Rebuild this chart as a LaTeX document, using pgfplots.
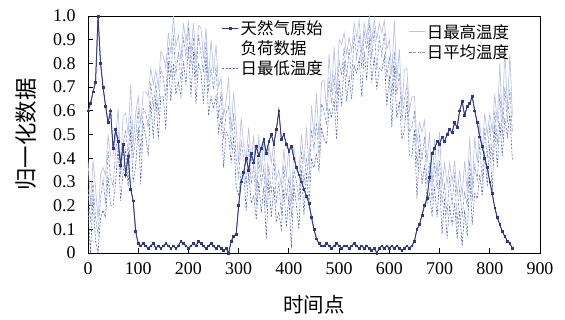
\documentclass[border=0pt]{standalone}
\usepackage{fontspec}
\setmainfont{Liberation Serif}
\newfontfamily\cjk{Noto Sans CJK SC}
\usepackage{pgfplots}
\usepackage{pgfplotstable}
\pgfplotsset{compat=1.18}
\definecolor{loadc}{RGB}{45,55,135}
\definecolor{tmaxc}{RGB}{185,192,232}
\definecolor{tminc}{RGB}{85,104,188}
\definecolor{tavgc}{RGB}{135,150,216}

\pgfplotstableread{
x L Tmax Tmin Tavg
0 0.60 0.39 0.19 0.27
5 0.63 0.20 0.00 0.13
10 0.68 0.39 0.24 0.30
15 0.72 0.28 0.05 0.15
20 1.00 0.14 0.00 0.08
25 0.80 0.33 0.15 0.23
30 0.70 0.36 0.18 0.31
35 0.62 0.33 0.15 0.21
40 0.55 0.50 0.33 0.43
45 0.60 0.41 0.20 0.32
50 0.44 0.41 0.20 0.28
55 0.52 0.49 0.30 0.43
60 0.47 0.61 0.45 0.51
65 0.37 0.37 0.22 0.32
70 0.46 0.58 0.34 0.46
75 0.33 0.59 0.44 0.52
80 0.41 0.50 0.28 0.41
85 0.27 0.71 0.52 0.58
90 0.22 0.46 0.30 0.40
95 0.09 0.59 0.37 0.49
100 0.04 0.66 0.53 0.61
105 0.03 0.54 0.29 0.42
110 0.04 0.68 0.55 0.61
115 0.03 0.68 0.49 0.59
120 0.02 0.66 0.41 0.53
125 0.03 0.78 0.64 0.72
130 0.04 0.71 0.48 0.61
135 0.02 0.77 0.66 0.72
140 0.03 0.70 0.48 0.58
145 0.02 0.85 0.66 0.78
150 0.03 0.83 0.66 0.74
155 0.04 0.78 0.52 0.65
160 0.03 0.93 0.81 0.87
165 0.02 0.84 0.64 0.74
170 0.03 1.00 0.80 0.92
175 0.02 0.87 0.67 0.75
180 0.03 0.92 0.72 0.85
185 0.05 0.81 0.66 0.72
190 0.04 0.97 0.81 0.91
195 0.03 0.89 0.71 0.83
200 0.02 0.98 0.87 0.95
205 0.03 0.84 0.66 0.79
210 0.04 0.97 0.85 0.91
215 0.03 0.80 0.63 0.73
220 0.05 0.96 0.80 0.92
225 0.04 0.95 0.76 0.84
230 0.03 0.82 0.63 0.76
235 0.02 0.95 0.83 0.89
240 0.03 0.73 0.58 0.68
245 0.04 0.90 0.66 0.78
250 0.03 0.76 0.61 0.69
255 0.02 0.88 0.66 0.79
260 0.03 0.70 0.51 0.57
265 0.02 0.74 0.58 0.68
270 0.01 0.58 0.36 0.48
275 0.02 0.64 0.51 0.59
280 0.00 0.74 0.49 0.62
285 0.05 0.51 0.38 0.44
290 0.07 0.68 0.49 0.59
295 0.08 0.53 0.28 0.40
300 0.20 0.38 0.24 0.32
305 0.30 0.57 0.34 0.47
310 0.34 0.45 0.34 0.40
315 0.40 0.40 0.18 0.28
320 0.35 0.53 0.34 0.46
325 0.42 0.38 0.21 0.29
330 0.38 0.50 0.24 0.37
335 0.45 0.26 0.14 0.20
340 0.41 0.50 0.30 0.40
345 0.44 0.34 0.17 0.29
350 0.48 0.48 0.28 0.36
355 0.42 0.26 0.06 0.19
360 0.47 0.46 0.31 0.37
365 0.50 0.38 0.15 0.25
370 0.46 0.46 0.28 0.40
375 0.52 0.31 0.13 0.21
380 0.60 0.35 0.17 0.30
385 0.48 0.28 0.10 0.16
390 0.50 0.44 0.27 0.37
395 0.46 0.32 0.11 0.23
400 0.43 0.45 0.24 0.32
405 0.45 0.21 0.02 0.15
410 0.40 0.45 0.29 0.35
415 0.36 0.35 0.20 0.30
420 0.33 0.34 0.10 0.22
425 0.30 0.50 0.35 0.43
430 0.27 0.38 0.16 0.29
435 0.24 0.53 0.34 0.40
440 0.21 0.36 0.20 0.30
445 0.15 0.62 0.40 0.52
450 0.10 0.49 0.36 0.44
455 0.06 0.67 0.42 0.55
460 0.04 0.48 0.35 0.41
465 0.03 0.72 0.53 0.63
470 0.03 0.73 0.48 0.60
475 0.04 0.60 0.46 0.54
480 0.03 0.84 0.61 0.74
485 0.02 0.68 0.57 0.63
490 0.03 0.87 0.65 0.75
495 0.04 0.67 0.48 0.60
500 0.03 0.90 0.73 0.81
505 0.02 0.88 0.62 0.75
510 0.03 0.93 0.81 0.87
515 0.03 0.84 0.64 0.74
520 0.02 0.91 0.74 0.86
525 0.03 0.85 0.65 0.73
530 0.04 0.97 0.79 0.92
535 0.03 0.91 0.76 0.82
540 0.02 0.98 0.82 0.92
545 0.03 0.84 0.66 0.78
550 0.02 0.97 0.85 0.93
555 0.03 0.91 0.73 0.86
560 0.02 1.00 0.91 0.97
565 0.01 0.89 0.72 0.82
570 0.02 0.99 0.83 0.95
575 0.00 0.90 0.69 0.77
580 0.02 0.97 0.78 0.91
585 0.03 0.93 0.77 0.83
590 0.02 0.98 0.83 0.93
595 0.03 0.86 0.62 0.74
600 0.02 0.90 0.75 0.83
605 0.03 0.75 0.53 0.66
610 0.02 0.98 0.79 0.85
615 0.03 0.73 0.57 0.67
620 0.02 0.86 0.64 0.76
625 0.01 0.61 0.48 0.56
630 0.02 0.77 0.52 0.65
635 0.03 0.78 0.65 0.71
640 0.02 0.60 0.41 0.51
645 0.03 0.66 0.41 0.53
650 0.05 0.66 0.52 0.60
655 0.10 0.46 0.23 0.36
660 0.12 0.55 0.44 0.50
665 0.16 0.51 0.29 0.39
670 0.20 0.56 0.37 0.49
675 0.23 0.38 0.21 0.29
680 0.32 0.51 0.25 0.38
685 0.42 0.28 0.16 0.22
690 0.44 0.48 0.28 0.38
695 0.47 0.32 0.15 0.27
700 0.46 0.51 0.31 0.39
705 0.49 0.28 0.08 0.21
710 0.47 0.38 0.23 0.29
715 0.50 0.29 0.06 0.16
720 0.52 0.38 0.20 0.32
725 0.51 0.30 0.12 0.20
730 0.55 0.39 0.21 0.34
735 0.53 0.24 0.06 0.12
740 0.60 0.35 0.18 0.28
745 0.64 0.24 0.03 0.15
750 0.58 0.39 0.18 0.26
755 0.62 0.26 0.07 0.20
760 0.63 0.49 0.33 0.39
765 0.66 0.27 0.12 0.22
770 0.60 0.49 0.25 0.37
775 0.55 0.38 0.23 0.31
780 0.49 0.55 0.33 0.46
785 0.45 0.43 0.24 0.30
790 0.40 0.59 0.43 0.53
795 0.36 0.50 0.28 0.40
800 0.30 0.59 0.46 0.54
805 0.25 0.51 0.26 0.39
810 0.19 0.67 0.54 0.60
815 0.15 0.55 0.36 0.46
820 0.12 0.80 0.55 0.67
825 0.09 0.55 0.41 0.49
830 0.07 0.86 0.57 0.70
835 0.05 0.60 0.49 0.55
840 0.04 0.84 0.59 0.69
845 0.02 0.58 0.39 0.51
}\data

\pgfplotsset{
  loadstyle/.style={color=loadc, line width=0.75bp, mark=square*, mark size=0.9bp, mark options={solid}},
  tmaxstyle/.style={color=tmaxc, line width=0.65bp},
  tminstyle/.style={color=tminc, line width=0.6bp, dash pattern=on 2bp off 1.5bp},
  tavgstyle/.style={color=tavgc, line width=0.6bp, dash pattern=on 3bp off 1.5bp},
  common/.style={at={(0,0)}, anchor=south west, scale only axis,
    width=452bp, height=237bp, xmin=0, xmax=900, ymin=0, ymax=1},
  legend image code/.code={\draw[mark repeat=2,mark phase=2,#1] plot coordinates {(0bp,0bp) (8bp,0bp) (16bp,0bp)};},
}

\begin{document}
\begin{tikzpicture}
\useasboundingbox (-88bp,-67bp) rectangle (477bp,253bp);
\begin{axis}[common,
  xtick={0,100,...,900},
  ytick={0,0.1,0.2,0.3,0.4,0.5,0.6,0.7,0.8,0.9,1.0},
  yticklabels={0,0.1,0.2,0.3,0.4,0.5,0.6,0.7,0.8,0.9,1.0},
  tick align=inside, xtick pos=left, ytick pos=left,
  major tick length=5bp,
  axis line style={line width=0.8bp},
  tick style={line width=0.8bp, black},
  ticklabel style={font=\fontsize{18}{18}\selectfont},
  xticklabel style={yshift=-6bp},
  yticklabel style={xshift=-9bp},
  /pgf/number format/assume math mode=true,
  /pgf/number format/1000 sep={},
  xlabel={\cjk 时间点},
  ylabel={\cjk 归一化数据},
  every axis x label/.style={at={(axis description cs:0.5,-0.219)}, anchor=center, font=\fontsize{20.5}{21}\selectfont},
  every axis y label/.style={at={(axis description cs:-0.137,0.5)}, rotate=90, anchor=center, font=\fontsize{22.5}{23}\selectfont},
  legend style={at={(0.296,0.99)}, anchor=north west, draw=none, fill=none,
    inner sep=0pt, row sep=0.5bp, font=\fontsize{16.5}{18}\selectfont\cjk,
    cells={anchor=west}},
  legend cell align=left,
]
\addplot[tmaxstyle, forget plot] table[x=x, y=Tmax] {\data};
\addplot[tavgstyle, forget plot] table[x=x, y=Tavg] {\data};
\addplot[loadstyle] table[x=x, y=L] {\data};
\addlegendentry{天然气原始}
\addlegendimage{empty legend}
\addlegendentry{负荷数据}
\addplot[tminstyle] table[x=x, y=Tmin] {\data};
\addlegendentry{日最低温度}
\addplot[loadstyle, forget plot] table[x=x, y=L] {\data};
\end{axis}
\begin{axis}[common, hide axis,
  legend style={at={(0.708,0.975)}, anchor=north west, draw=none, fill=none,
    inner sep=0pt, row sep=1.5bp, font=\fontsize{16.5}{18}\selectfont\cjk,
    cells={anchor=west}},
  legend cell align=left,
]
\addlegendimage{tmaxstyle}
\addlegendentry{日最高温度}
\addlegendimage{tavgstyle}
\addlegendentry{日平均温度}
\end{axis}
\end{tikzpicture}
\end{document}
